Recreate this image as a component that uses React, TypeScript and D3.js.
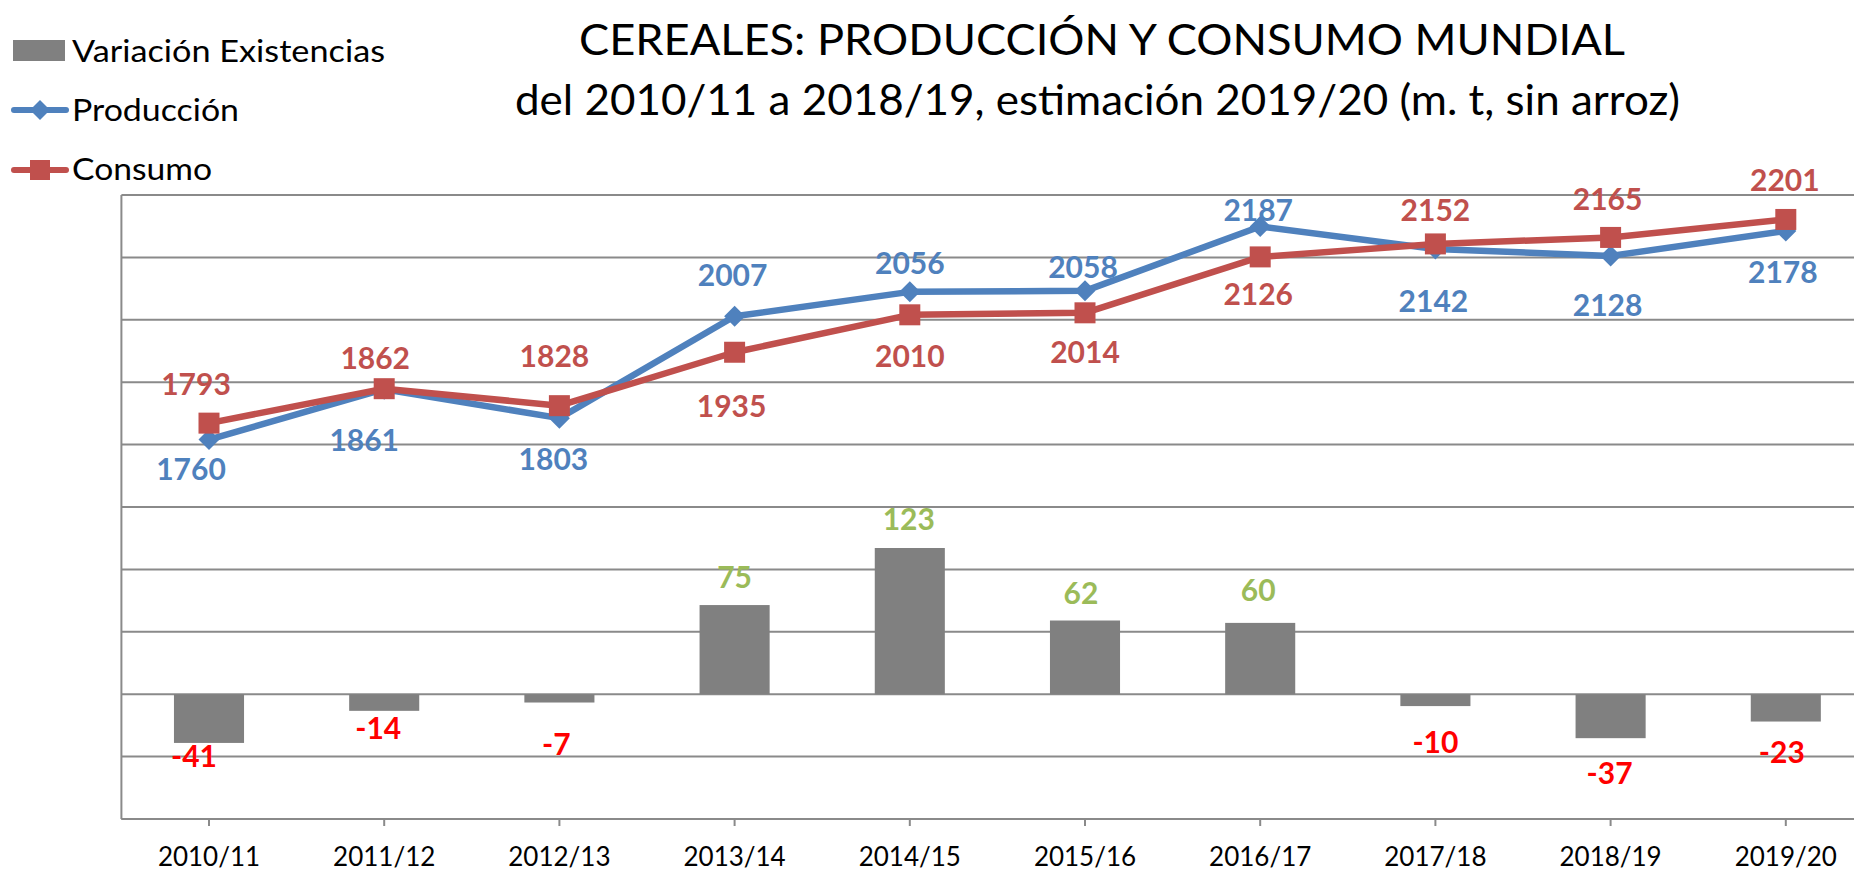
import React from "react";
import * as d3 from "d3";

// Campañas
const categories = [
  "2010/11", "2011/12", "2012/13", "2013/14", "2014/15",
  "2015/16", "2016/17", "2017/18", "2018/19", "2019/20",
];

// millones de toneladas
const produccion = [1760, 1861, 1803, 2007, 2056, 2058, 2187, 2142, 2128, 2178];
const consumo = [1793, 1862, 1828, 1935, 2010, 2014, 2126, 2152, 2165, 2201];
const variacion = [-41, -14, -7, 75, 123, 62, 60, -10, -37, -23];

// gridline steps of the (hidden) line axis
const lineAxisTicks = d3.range(1000, 2251, 125);

// where each data label sits, relative to its point (dx, dy to the text middle)
const prodLabelShift: [number, number][] = [
  [-18, 28], [-20, 50], [-6, 40], [-2, -42], [0, -30],
  [-2, -25], [-2, -17], [-2, 51], [-3, 48], [-3, 40],
];
const consLabelShift: [number, number][] = [
  [-13, -40], [-9, -32], [-5, -51], [-3, 53], [0, 40],
  [0, 38], [-2, 36], [0, -35], [-3, -39], [-1, -40],
];
const barLabelShift: [number, number][] = [
  [-15, 12], [-6, 16], [-3, 40], [0, -29], [-1, -30],
  [-4, -29], [-2, -34], [0, 35], [-1, 34], [-4, 29],
];

const W = 1854;
const H = 871;
const plot = { left: 121.4, right: 1873.4, top: 195, bottom: 819 };

const BLUE = "#4F81BD";
const RED = "#C0504D";
const GREY = "#808080";
const GRID = "#8a8a8a";
const GREEN = "#9BBB59";
const FONT = "Lato, 'Open Sans', sans-serif";

const diamond = (r: number) => `M0,${-r}L${r},0L0,${r}L${-r},0Z`;

const App: React.FC = () => {
  const x = d3.scaleBand<string>().domain(categories).range([plot.left, plot.right]);
  const cx = (i: number) => (x(categories[i]) as number) + x.bandwidth() / 2;
  const yLine = d3.scaleLinear().domain([1000, 2250]).range([plot.bottom, plot.top]);
  const yBar = d3.scaleLinear().domain([-105, 420]).range([plot.bottom, plot.top]);
  const barW = x.bandwidth() * 0.4;

  const line = d3
    .line<number>()
    .x((_, i) => cx(i))
    .y((d) => yLine(d));

  return (
    <svg
      width={W}
      height={H}
      style={{ position: "absolute", left: 0, top: 0, background: "#fff" }}
      fontFamily={FONT}
    >
      {/* gridlines */}
      {lineAxisTicks.map((t) => (
        <line
          key={t}
          x1={plot.left}
          x2={plot.right}
          y1={yLine(t)}
          y2={yLine(t)}
          stroke={GRID}
          strokeWidth={2}
        />
      ))}

      {/* axes */}
      <line x1={plot.left} x2={plot.left} y1={plot.top} y2={plot.bottom} stroke={GRID} strokeWidth={2} />
      <line x1={plot.left} x2={plot.right} y1={plot.bottom} y2={plot.bottom} stroke={GRID} strokeWidth={2} />
      {categories.map((c, i) => (
        <g key={c}>
          <line x1={cx(i)} x2={cx(i)} y1={plot.bottom} y2={plot.bottom + 7} stroke={GRID} strokeWidth={2} />
          <text x={cx(i)} y={866} textAnchor="middle" fontSize={26} fill="#000">
            {c}
          </text>
        </g>
      ))}

      {/* bars */}
      {variacion.map((v, i) => (
        <rect
          key={i}
          x={cx(i) - barW / 2}
          y={Math.min(yBar(v), yBar(0))}
          width={barW}
          height={Math.abs(yBar(v) - yBar(0))}
          fill={GREY}
        />
      ))}
      {variacion.map((v, i) => (
        <text
          key={i}
          x={cx(i) + barLabelShift[i][0]}
          y={yBar(v) + barLabelShift[i][1]}
          dominantBaseline="central"
          textAnchor="middle"
          fontSize={30}
          fontWeight="bold"
          fill={v < 0 ? "#FF0000" : GREEN}
        >
          {v}
        </text>
      ))}

      {/* Producción */}
      <path d={line(produccion) as string} fill="none" stroke={BLUE} strokeWidth={6.5} strokeLinejoin="round" />
      {produccion.map((v, i) => (
        <path key={i} d={diamond(10.5)} transform={`translate(${cx(i)},${yLine(v)})`} fill={BLUE} />
      ))}

      {/* Consumo */}
      <path d={line(consumo) as string} fill="none" stroke={RED} strokeWidth={6.5} strokeLinejoin="round" />
      {consumo.map((v, i) => (
        <rect key={i} x={cx(i) - 10.5} y={yLine(v) - 10.5} width={21} height={21} fill={RED} />
      ))}

      {produccion.map((v, i) => (
        <text
          key={i}
          x={cx(i) + prodLabelShift[i][0]}
          y={yLine(v) + prodLabelShift[i][1]}
          dominantBaseline="central"
          textAnchor="middle"
          fontSize={30}
          fontWeight="bold"
          fill={BLUE}
        >
          {v}
        </text>
      ))}
      {consumo.map((v, i) => (
        <text
          key={i}
          x={cx(i) + consLabelShift[i][0]}
          y={yLine(v) + consLabelShift[i][1]}
          dominantBaseline="central"
          textAnchor="middle"
          fontSize={30}
          fontWeight="bold"
          fill={RED}
        >
          {v}
        </text>
      ))}

      {/* title */}
      <text x={1102} y={55} textAnchor="middle" fontSize={42} fill="#000" textLength={1046} lengthAdjust="spacingAndGlyphs">
        CEREALES: PRODUCCIÓN Y CONSUMO MUNDIAL
      </text>
      <text x={1097.5} y={115} textAnchor="middle" fontSize={42} fill="#000" textLength={1165} lengthAdjust="spacingAndGlyphs">
        del 2010/11 a 2018/19, estimación 2019/20 (m. t, sin arroz)
      </text>

      {/* legend */}
      <rect x={13} y={40} width={52} height={21} fill={GREY} />
      <text x={72} y={62} fontSize={31} fill="#000" textLength={313} lengthAdjust="spacingAndGlyphs">
        Variación Existencias
      </text>
      <line x1={14} x2={66} y1={110} y2={110} stroke={BLUE} strokeWidth={6} strokeLinecap="round" />
      <path d={diamond(10)} transform="translate(40,110)" fill={BLUE} />
      <text x={72} y={121} fontSize={31} fill="#000" textLength={167} lengthAdjust="spacingAndGlyphs">
        Producción
      </text>
      <line x1={14} x2={66} y1={170} y2={170} stroke={RED} strokeWidth={6} strokeLinecap="round" />
      <rect x={30} y={160} width={20} height={20} fill={RED} />
      <text x={72} y={180} fontSize={31} fill="#000" textLength={140} lengthAdjust="spacingAndGlyphs">
        Consumo
      </text>
    </svg>
  );
};

export default App;
